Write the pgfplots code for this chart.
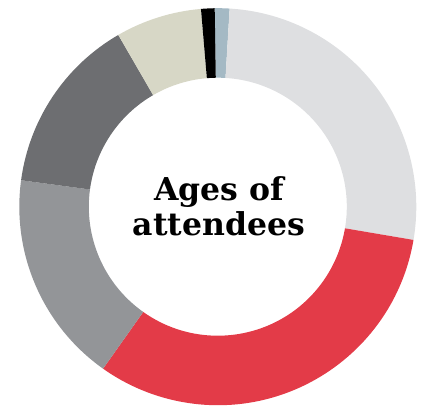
\documentclass[border=0pt]{standalone}
\usepackage{pgfplots}
\pgfplotsset{compat=1.18}
\usepackage{pgfplotstable}
\usepackage{fontspec}
\newfontfamily\titlefont{DejaVu Serif}

\definecolor{cBlue}{HTML}{A4B9C4}
\definecolor{cLight}{HTML}{DEDFE1}
\definecolor{cRed}{HTML}{E33B48}
\definecolor{cMid}{HTML}{939598}
\definecolor{cDark}{HTML}{6D6E71}
\definecolor{cBeige}{HTML}{D7D7C6}
\definecolor{cBlack}{HTML}{000000}

% age groups, clockwise from 12 o'clock
\pgfplotstableread{
share col
1.2   cBlue
26.7  cLight
32.1  cRed
17.3  cMid
14.5  cDark
7.0   cBeige
1.1   cBlack
}\agedata

\begin{document}
\begin{tikzpicture}
\begin{axis}[
    scale only axis,
    width=435pt, height=407pt,
    xmin=0, xmax=435, ymin=0, ymax=407,
    hide axis, clip=false,
  ]
  \def\cx{217.8}\def\cy{200.3}
  \def\Ro{198.5pt}\def\Ri{129pt}
  \pgfmathsetmacro\total{0}
  \pgfplotsforeachungrouped \i in {0,...,6}{%
    \pgfplotstablegetelem{\i}{share}\of\agedata
    \pgfmathsetmacro\total{\total+\pgfplotsretval}%
  }
  \pgfmathsetmacro\cum{0}
  \pgfplotsforeachungrouped \i in {0,...,6}{%
    \pgfplotstablegetelem{\i}{share}\of\agedata
    \let\v\pgfplotsretval
    \pgfplotstablegetelem{\i}{col}\of\agedata
    \let\c\pgfplotsretval
    \pgfmathsetmacro\a{90.9-(\cum/\total)*360}%
    \pgfmathsetmacro\b{\a-(\v/\total)*360}%
    \pgfmathsetmacro\cum{\cum+\v}%
    \edef\temp{\noexpand\fill[\c] (axis cs:\cx,\cy) ++(\a:\Ro)
      arc[start angle=\a, end angle=\b, radius=\Ro]
      -- ++(\b:-69.5pt)
      arc[start angle=\b, end angle=\a, radius=\Ri] -- cycle;}%
    \temp
  }
  \node[align=center, font=\titlefont\bfseries\fontsize{31.5}{35}\selectfont]
    at (axis cs:219,201) {Ages of\\attendees};
\end{axis}
\pgfresetboundingbox
\path (0,0) rectangle (435pt,407pt);
\end{tikzpicture}
\end{document}
